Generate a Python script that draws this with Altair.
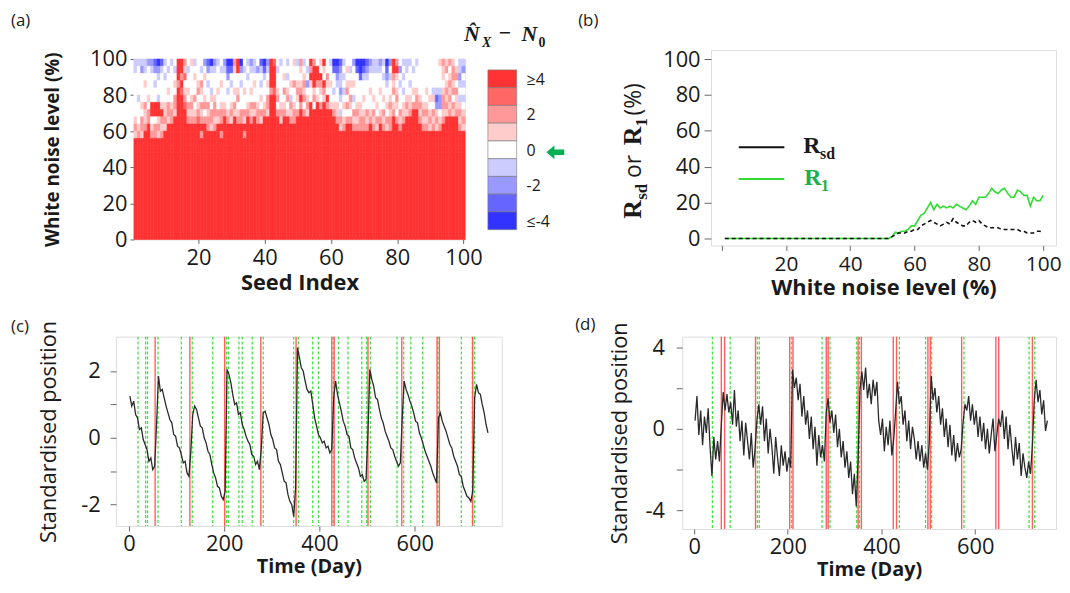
import altair as alt
import pandas as pd

FONT = "Open Sans"
SERIF = "Liberation Serif"
INK = "#1a1a1a"
FRAME = "#8f8f8f"

# ---------------- panel (a): heat map -----------------
SEEDS = list(range(1, 101))
BAND_LOWS = [96, 92, 88, 84, 80, 76, 72, 68, 64, 60, 56, 52, 48]   # top -> bottom, 4 % bands
BAND_HEIGHT = 4
SOLID_TOP = 48          # every seed is >=4 below this level
CODE_CHARS = {"4": 4, "3": 3, "2": 2, "1": 1, "0": 0, "a": -1, "b": -2, "c": -3, "d": -4}
HEAT_COLS = [
    "aa00000012144", "a0000a0001244", "ab00001022144", "aa01002112444", "b000010224444",
    "ba00004401244", "cb0a004402244", "dba00a4412144", "ca00001421244", "a0a0001121444",
    "0a00102214444", "a000001224444", "0a01022144444", "4442444444444", "4424344444444",
    "2130123444444", "0a00102124444", "1000012124444", "a010020124444", "0001201234444",
    "0a02102124244", "b010012024444", "cb0a002122444", "da00a10221444", "ba00012212444",
    "a000100214444", "0a01001224244", "ba00001244444", "dcb0a00124444", "dc0a001214444",
    "2100102144444", "4400120124444", "db0a000224444", "0a00100214244", "a0a0001244444",
    "ba00102124444", "aa01002144444", "0b00001224444", "ca0a010214444", "dca0001244444",
    "ba01022144444", "4444244444444", "3444344444444", "0a00120244444", "a000001214444",
    "0010201244444", "a0a0120144444", "00010a2124444", "1002001224444", "a001210244444",
    "2101242444444", "a012120244444", "0a0b012144444", "4241004444444", "2444120444444",
    "0442014444444", "1042102444444", "4104214444444", "0021042444444", "a001001444444",
    "dc00a01244444", "dcba001124444", "cbaaba0a21444", "a0a0a01012444", "0101202024444",
    "0a01021024444", "b0010a0212444", "dc00001212444", "ddc0001122444", "dca0010122444",
    "cba0000212444", "ba00100124444", "aa00010212444", "aa00001021444", "ba00100124444",
    "a0a0010212444", "dcba001021444", "b0a0012122444", "4421201244444", "2410121024444",
    "0b0a000212444", "a0a0a01124444", "aa00012144444", "a00a011244444", "0a00102444444",
    "a000122444444", "0000012124444", "0000001212444", "0000101212444", "0000010121444",
    "0000a10212444", "0000acb121444", "1000abb012444", "2110122124444", "1201212144444",
    "2012121244444", "1221202144444", "0120211244444", "aaba0a1212444", "ab0a0a0121444",
]
LEGEND_CODES = [4, 3, 2, 1, 0, -1, -2, -3, -4]
LEGEND_COLORS = ["#FF3333", "#FF6666", "#FF9999", "#FFCCCC", "#FFFFFF",
                 "#CCCCFF", "#9999FF", "#6666FF", "#3333FF"]
LEGEND_LABELS = {4: "≥4", 2: "2", 0: "0", -2: "-2", -4: "≤-4"}

# ---------------- panel (b): rates -----------------
NOISE = list(range(1, 101))
R1 = [0] * 52 + [1, 3.5, 3, 4, 4, 5, 7, 7, 10, 13, 14, 17, 20, 16, 19, 17, 18, 17, 18, 17,
                 19, 18, 17, 16, 18, 21, 19, 23, 23, 23, 25, 28, 26, 25, 27, 28, 25, 23, 23, 27,
                 26, 24, 24, 18, 23, 21, 21, 24]
RSD = [0] * 52 + [1, 2, 3, 3, 3, 4, 4, 5, 5, 7, 8, 9, 10, 9, 8, 7, 8, 9, 8, 11,
                  9, 8, 7, 7, 9, 10, 9, 10, 8, 7, 6, 6, 6, 6, 5, 5, 5, 5, 5, 5,
                  4, 4, 3, 3, 3, 4, 4, 3.5]

# ---------------- panel (c) -----------------
C_VAL = [1.25, 0.95, 1.1, 0.7, 0.6, 0.25, 0.3, -0.05, -0.2, -0.35, -0.7, -0.6, -0.95, -0.85,
         0.4,
         1.85, 1.4, 1.45, 1.2, 0.95, 0.75, 0.55, 0.45, 0.1, 0.05, -0.25, -0.3, -0.5, -0.75, -0.7, -1.05, -1.15,
         -0.4, 0.7, 0.95,
         0.85, 0.6, 0.35, 0.3, 0.0, -0.15, -0.4, -0.5, -0.8, -1.05, -1.2, -1.45, -1.5, -1.75, -1.85,
         -1.6, 2.05, 1.9,
         1.65, 1.3, 1.0, 1.05, 0.7, 0.75, 0.4, 0.25, 0.05, -0.1, -0.2, -0.5, -0.55, -0.8, -0.7, -0.95,
         -0.3, 0.75, 0.8,
         0.6, 0.4, 0.1, -0.05, -0.3, -0.35, -0.7, -0.8, -1.05, -1.3, -1.35, -1.7, -1.9, -2.0, -2.35,
         -1.5, 2.7, 2.4,
         2.1, 2.0, 1.7, 1.45, 1.35, 1.4, 1.0, 0.6, 0.35, 0.1, 0.0, -0.15, -0.1, -0.3, -0.25, -0.45, -0.35,
         1.2, 1.7, 1.3,
         1.05, 0.8, 0.5, 0.35, 0.1, 0.05, -0.3, -0.35, -0.6, -0.75, -0.9, -1.15, -1.1, -1.3, -1.25,
         0.2, 2.05, 1.75,
         1.55, 1.2, 1.15, 0.85, 0.6, 0.45, 0.2, 0.05, -0.1, -0.3, -0.35, -0.55, -0.7, -0.85, -0.75,
         0.6, 1.7, 1.45,
         1.3, 1.1, 0.95, 0.75, 0.5, 0.45, 0.15, 0.0, -0.2, -0.4, -0.55, -0.7, -0.85, -1.05, -1.2, -1.35,
         0.6, 0.75,
         0.5, 0.35, 0.2, 0.0, -0.2, -0.3, -0.55, -0.7, -0.85, -1.1, -1.15, -1.45, -1.6, -1.75, -1.8, -1.9,
         -1.6, 1.2, 1.6,
         1.35, 1.3, 1.0, 0.75, 0.4, 0.15]
C_RED = [55, 128, 201, 277, 351, 426, 431, 502, 573, 647, 652, 722]
C_GREEN = [19, 35, 39, 61, 110, 133, 176, 205, 209, 231, 238, 259, 282, 346, 356, 386, 398,
           429, 440, 460, 489, 499, 507, 563, 577, 592, 617, 649, 698, 721, 726]

# ---------------- panel (d) -----------------
D_VAL = [0.4, 1.6, -0.3, 0.9, -0.8, 0.6, -0.2, 1.0, -0.9, -2.3, -0.4, -1.5, -0.6, -1.6,
         0.2, 1.8,
         0.9, 1.7, 0.8, 1.3, 0.2, 1.9, 0.1, 0.9, -0.6, 0.4, -1.3, 0.3, -0.6, -1.5, -0.2, -1.9, -1.0,
         0.4, 1.2,
         0.2, 1.1, -0.6, 0.5, -1.2, 0.0, -0.9, -2.2, -0.4, -1.4, -2.3, -0.8, -1.8, -1.1, -2.1, -1.4, -1.9,
         2.9, 2.0,
         2.5, 1.4, 2.2, 0.6, 1.6, 0.2, 0.9, -0.5, 0.6, -1.0, 0.1, -1.8, -0.3, -1.4, -0.8, -1.6,
         0.8, 1.5, 0.3,
         0.9, -0.2, 0.7, -0.9, 0.0, -1.4, -0.6, -1.9, -1.1, -2.4, -1.6, -3.2, -2.2, -3.8,
         -1.5, 1.9, 2.8,
         1.9, 3.0, 1.5, 2.2, 1.2, 2.4, 1.6, 2.3, 0.4, -0.3, 0.5, -1.1, 0.1, -0.8, 0.4, -1.3, -0.5,
         0.8, 2.3, 1.2,
         1.6, 0.2, 0.9, -0.6, 0.4, -1.0, 0.1, -0.5, -1.5, -0.6, -1.6, -0.8, -1.9, -1.2, -2.0,
         -0.6, 2.6, 1.4,
         2.0, 0.8, 1.6, 0.2, 1.0, -0.4, 0.5, -0.9, 0.2, -1.3, -0.3, -1.6, -0.7, -1.4, -1.0,
         0.3, 1.2, 0.9,
         1.6, 0.4, 1.2, 0.2, 0.9, -0.4, 0.6, -0.6, 0.3, -1.0, 0.0, -1.2, -0.3, 0.5, -1.1, -0.3,
         0.5, 0.1,
         0.9, -0.5, 0.6, -1.0, 0.2, -0.9, -1.8, -0.4, -1.5, -0.7, -2.3, -1.2, -1.9, -2.4, -1.6, -2.2,
         -0.8, 1.4, 2.4,
         1.3, 1.9, 0.7, 1.4, -0.1, 0.4]
D_RED = [58, 65, 131, 204, 211, 282, 286, 350, 357, 425, 432, 499, 504, 571, 644, 650, 722]
D_GREEN = [39, 77, 135, 139, 208, 273, 290, 347, 353, 438, 494, 507, 576, 715, 727]

GREEN_LINE = "#2fdc2f"
GREEN_TEXT = "#1fae4a"
RED_RULE = "#ff4d4d"
GREEN_RULE = "#45e245"


def axis(**kw):
    base = dict(labelFont=FONT, labelFontSize=22, labelColor=INK, titleFont=FONT,
                titleFontSize=22, titleFontWeight="bold", titleColor=INK, domain=False,
                grid=False, tickColor="#666", tickSize=5, labelPadding=4,
                labelFlush=False, labelOverlap=False)
    base.update(kw)
    return alt.Axis(**base)


def label(text, x, y, size=17, font=FONT, weight="normal", style="normal", color=INK,
          angle=0, baseline="alphabetic", align="left"):
    kw = dict(font=font, fontSize=size, fontWeight=weight, fontStyle=style, color=color,
              align=align, baseline=baseline)
    if angle:
        kw["angle"] = angle
    return alt.Chart(pd.DataFrame({"t": [text]})).mark_text(**kw).encode(
        text="t:N", x=alt.value(x), y=alt.value(y))


def spacer():
    return alt.Chart(pd.DataFrame({"v": [0]})).mark_rule(strokeOpacity=0).encode(
        x=alt.value(0), x2=alt.value(0), y=alt.value(0), y2=alt.value(0)).properties(
        width=1, height=1, view=alt.ViewBackground(strokeOpacity=0))


# ---------- build panel (a) ----------
rows = []
for seed, col in zip(SEEDS, HEAT_COLS):
    col = col.ljust(len(BAND_LOWS), "4")[:len(BAND_LOWS)]
    rows.append(dict(x0=seed - 0.5, x1=seed + 0.5, lo=0, hi=SOLID_TOP, code=4))
    for lo, ch in zip(BAND_LOWS, col):
        rows.append(dict(x0=seed - 0.5, x1=seed + 0.5, lo=lo, hi=lo + BAND_HEIGHT,
                         code=CODE_CHARS[ch]))
heat_df = pd.DataFrame(rows)

cscale = alt.Scale(domain=LEGEND_CODES, range=LEGEND_COLORS)

heat = alt.Chart(heat_df).mark_rect(strokeWidth=0.6).encode(
    x=alt.X("x0:Q", scale=alt.Scale(domain=[0.5, 100.5], nice=False, zero=False),
            axis=axis(title="Seed Index", values=[20, 40, 60, 80, 100], tickSize=4,
                      labelPadding=4, titlePadding=4)),
    x2="x1:Q",
    y=alt.Y("lo:Q", scale=alt.Scale(domain=[0, 100], nice=False),
            axis=axis(title="White noise level (%)", values=[0, 20, 40, 60, 80, 100],
                      titleFontSize=19, tickSize=4, labelPadding=3, titlePadding=27)),
    y2="hi:Q",
    color=alt.Color("code:O", scale=cscale, legend=None),
    stroke=alt.Stroke("code:O", scale=cscale, legend=None),
)

# colour key of panel (a)
KEY_X0, KEY_X1, KEY_TOP, KEY_ROW = 357, 386, 11, 17.9
key_layers = []
for i, (code, colr) in enumerate(zip(LEGEND_CODES, LEGEND_COLORS)):
    top = KEY_TOP + i * KEY_ROW
    key_layers.append(
        alt.Chart(pd.DataFrame({"code": [code]})).mark_rect(
            fill=colr, stroke="#777777", strokeWidth=0.6).encode(
            x=alt.value(KEY_X0), x2=alt.value(KEY_X1), y=alt.value(top),
            y2=alt.value(top + KEY_ROW)))
    if code in LEGEND_LABELS:
        key_layers.append(label(LEGEND_LABELS[code], KEY_X1 + 10, top + KEY_ROW / 2 + 1, 16,
                                baseline="middle"))

ARROW = "M-1,0L-0.1,-0.75L-0.1,-0.3L1,-0.3L1,0.3L-0.1,0.3L-0.1,0.75Z"
arrow = alt.Chart(pd.DataFrame({"v": [0]})).mark_point(
    shape=ARROW, filled=True, size=324, color="#00B050", opacity=1).encode(
    x=alt.value(425), y=alt.value(94))

panel_a = alt.layer(
    heat, *key_layers, arrow,
    label("(a)", -124, -46, baseline="top"),
    label("N\u0302", 333, -18, 22, SERIF, "bold", "italic"),
    label("X", 351, -12, 14, SERIF, "bold", "italic"),
    label("\u2212", 368, -19, 22, SERIF, "bold"),
    label("N", 391, -18, 22, SERIF, "bold", "italic"),
    label("0", 408, -12, 14, SERIF, "bold"),
).properties(width=334, height=182)

# ---------- build panel (b) ----------
xb = alt.X("noise:Q", scale=alt.Scale(domain=[-3.3, 104], nice=False, zero=False),
           axis=axis(title="White noise level (%)", values=[0, 20, 40, 60, 80, 100],
                     labelExpr="datum.value == 0 ? '' : datum.label", tickSize=5,
                     labelFontSize=21, labelPadding=3, titlePadding=3))
yb = alt.Y("value:Q", scale=alt.Scale(domain=[-3.9, 105], nice=False, zero=False),
           axis=axis(title=None, values=[0, 20, 40, 60, 80, 100], tickSize=7, labelPadding=4))
line_r1 = alt.Chart(pd.DataFrame({"noise": NOISE, "value": R1})).mark_line(
    color=GREEN_LINE, strokeWidth=1.6).encode(x=xb, y=yb)
line_rsd = alt.Chart(pd.DataFrame({"noise": NOISE, "value": RSD})).mark_line(
    color="#111111", strokeWidth=1.6, strokeDash=[4, 3]).encode(x=xb, y=yb)
leg_black = alt.Chart(pd.DataFrame({"v": [0]})).mark_rule(color="#111111", strokeWidth=2).encode(
    x=alt.value(28), x2=alt.value(74), y=alt.value(98))
leg_green = alt.Chart(pd.DataFrame({"v": [0]})).mark_rule(color=GREEN_LINE, strokeWidth=2).encode(
    x=alt.value(28), x2=alt.value(74), y=alt.value(130))

panel_b = alt.layer(
    line_r1, line_rsd, leg_black, leg_green,
    label("(b)", -134, -37, baseline="top"),
    label("R", -71, 170, 26, SERIF, "bold", angle=270),
    label("sd", -65, 151, 17, SERIF, "bold", angle=270),
    label("or", -71, 129, 23, FONT, angle=270),
    label("R", -71, 96, 26, SERIF, "bold", angle=270),
    label("1", -65, 77, 17, SERIF, "bold", angle=270),
    label("(%)", -71, 66, 23, FONT, angle=270),
    label("R", 93, 104, 24, SERIF, "bold"),
    label("sd", 110, 110, 16, SERIF, "bold"),
    label("R", 94, 136, 24, SERIF, "bold", color=GREEN_TEXT),
    label("1", 111, 142, 16, SERIF, "bold", color=GREEN_TEXT),
).properties(width=348, height=197)


# ---------- panels (c) and (d) ----------
def series_panel(values, reds, greens, xdom, ydom, yvals, mod, lab, lab_xy, lpad, tpad, w, h):
    days = list(range(2, 2 + 4 * len(values), 4))
    xenc = alt.X("day:Q", scale=alt.Scale(domain=xdom, nice=False, zero=False),
                 axis=axis(title="Time (Day)", values=[0, 200, 400, 600], tickSize=5,
                           labelPadding=3, titleFontSize=20, titlePadding=2))
    yexpr = (f"datum.value % {mod} == 0 ? (datum.value < 0 ? '-' + abs(datum.value) : "
             f"'' + datum.value) : ''")
    g = alt.Chart(pd.DataFrame({"day": greens})).mark_rule(
        color=GREEN_RULE, strokeWidth=1.3, strokeDash=[3, 2]).encode(x=xenc)
    r = alt.Chart(pd.DataFrame({"day": reds})).mark_rule(
        color=RED_RULE, strokeWidth=1.4, opacity=0.9).encode(x=xenc)
    ln = alt.Chart(pd.DataFrame({"day": days, "pos": values})).mark_line(
        color="#2a2a2a", strokeWidth=1.3).encode(
        x=xenc,
        y=alt.Y("pos:Q", scale=alt.Scale(domain=ydom, nice=False, zero=False),
                axis=axis(title="Standardised position", titleFontWeight="normal",
                          values=yvals, labelExpr=yexpr, tickSize=6, labelPadding=lpad,
                          titlePadding=tpad)))
    return alt.layer(g, r, ln, label(lab, lab_xy[0], lab_xy[1], baseline="top")).properties(
        width=w, height=h)


panel_c = series_panel(C_VAL, C_RED, C_GREEN, [-27, 783], [-2.64, 3.03], [-2, -1, 0, 1, 2], 2,
                       "(c)", (-106, -18), 10, 20, 389, 191)
panel_d = series_panel(D_VAL, D_RED, D_GREEN, [-25.4, 772.5], [-4.9, 4.51], [-4, -2, 0, 2, 4], 4,
                       "(d)", (-108, -20), 12, 14, 377, 194)

# ---------- layout (full bounds; the panel labels fix the alignment) ----------
col_a = alt.vconcat(spacer(), panel_a, spacing=0)
col_b = alt.vconcat(spacer(), panel_b, spacing=0)
row1 = alt.hconcat(alt.hconcat(spacer(), col_a, spacing=0), col_b, spacing=12)
row2 = alt.hconcat(alt.hconcat(spacer(), panel_c, spacing=0), panel_d, spacing=72)

chart = alt.vconcat(row1, row2, spacing=16).properties(
    padding={"left": 1, "top": 0, "right": 0, "bottom": 0}
).configure_view(stroke=FRAME, strokeWidth=1).configure(background="white")

chart.save("out.html", embed_options={"renderer": "svg", "actions": False})
